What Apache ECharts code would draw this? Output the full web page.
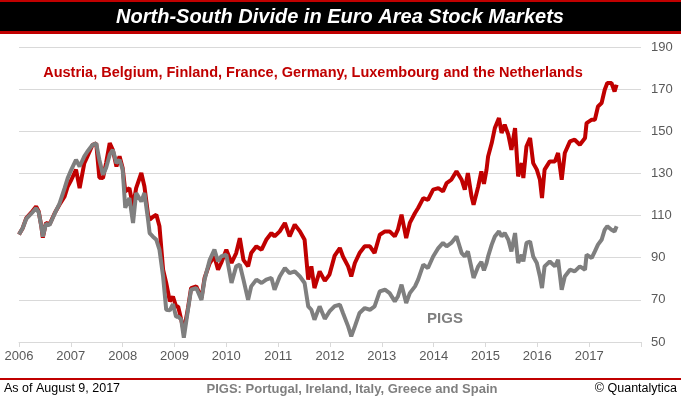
<!DOCTYPE html>
<html>
<head>
<meta charset="utf-8">
<script src="https://cdn.jsdelivr.net/npm/echarts@6/dist/echarts.min.js"></script>
<style>
html,body{margin:0;padding:0;background:#fff;}
#chart{width:681px;height:399px;}
</style>
</head>
<body>
<div id="chart"></div>
<script>
// decimal years
var dates = [
2006.00,2006.07,2006.14,2006.24,2006.33,2006.38,2006.43,2006.46,2006.52,2006.59,2006.69,2006.78,2006.88,2006.94,
2007.01,2007.10,2007.17,2007.26,2007.32,2007.42,2007.49,2007.55,2007.62,2007.68,2007.75,2007.81,2007.88,2007.94,
2008.00,2008.05,2008.13,2008.20,2008.26,2008.36,2008.42,2008.49,2008.52,2008.58,2008.65,2008.71,2008.78,2008.84,2008.91,2008.97,
2009.03,2009.07,2009.13,2009.18,2009.26,2009.32,2009.42,2009.52,2009.58,2009.68,2009.77,2009.84,2009.90,
2010.00,2010.10,2010.19,2010.26,2010.33,2010.42,2010.48,2010.58,2010.68,2010.77,2010.87,2010.93,
2011.03,2011.13,2011.22,2011.32,2011.42,2011.51,2011.58,2011.64,2011.70,2011.80,2011.90,2011.99,
2012.09,2012.19,2012.25,2012.35,2012.41,2012.48,2012.57,2012.67,2012.77,2012.86,2012.96,
2013.06,2013.15,2013.25,2013.31,2013.38,2013.47,2013.54,2013.64,2013.70,2013.80,2013.89,2013.99,
2014.09,2014.18,2014.25,2014.34,2014.44,2014.54,2014.60,2014.66,2014.73,2014.77,2014.86,2014.92,2014.97,
2015.02,2015.05,2015.12,2015.18,2015.26,2015.31,2015.37,2015.44,2015.50,2015.57,2015.63,2015.70,2015.73,2015.79,2015.86,2015.92,2015.99,
2016.05,2016.09,2016.14,2016.24,2016.34,2016.40,2016.47,2016.53,2016.63,2016.72,2016.82,2016.92,2016.95,
2017.05,2017.11,2017.17,2017.24,2017.30,2017.35,2017.43,2017.49,2017.53
];
var north = [
101,104,108.8,111.5,114.3,112,105,99.5,106.5,105.8,111.2,115.1,119.1,123.8,
127,131.8,123,134.9,138.1,143.6,144.2,128,127.8,134.9,144.4,141.2,133.3,138.1,
132.6,121.5,123,114.3,123,130.2,123.8,110.4,108,109.3,110.4,104.9,84.3,78,69.3,71.6,
66.9,66.9,60.6,55,66.1,75.6,76.4,70.9,80.4,87.5,90.6,84.3,87.5,
93.8,87.5,92.2,99.3,89,85.9,92.2,95.4,93.8,98.5,101.7,100.1,
102.5,106.5,100.1,105.7,102.5,98.5,79.6,85.9,75.6,83.5,79,82,
91,94.6,90.6,85.9,81.1,87.5,92.2,95.4,95.4,92.2,100.9,
102.5,102.5,100.1,103.3,110.4,99.3,106.5,111.2,113.6,118.3,117.5,122.3,
123,121.5,125.4,127,131,127,122.3,130.2,119.1,115.1,123.8,131,125,
131.8,138,144.4,151.5,156.3,149.2,153.1,148.4,141.2,151.5,128.6,134.9,127.8,142.8,146.8,134.9,131.8,
127,118.3,131.8,135.7,135.7,139.7,127,139.7,145.2,146,143.6,146.8,153.9,
155.5,155.5,161.8,163.4,169.7,172.9,172.9,168.9,172.1
];
var pigs = [
101,104,108.5,111,113.5,111.5,105,100,106,105.5,111,115.5,123,127.8,
131.8,136.5,133.3,138.1,140.4,143.6,144.2,136.5,129.4,132.6,138.9,141.2,134.9,136.5,
131.8,113.7,118.3,106.5,120.7,116.7,120.7,108,101.7,100.1,98.5,93.8,81.1,65.3,65,68,
62,62.1,60.6,52,65.3,74.8,75.6,70,79.6,89,93.8,88.2,90.6,
91.4,78,85.9,86.7,79.6,70,76.4,79.6,78,79.6,80.4,74.8,
81.1,85.1,82.7,83.5,81.1,78,66.9,65.3,60.6,66.9,61,64.5,
67,67.7,63.8,57.4,52.7,57.4,63.8,66.1,65.3,66.9,74,
74.8,73.2,69.3,71.6,77.2,68.5,73.2,76.4,79.6,86.7,85.1,90.6,
94.6,97,95.4,97,100.1,92.2,90.6,93,85.1,80.4,85.9,88,84,
87.5,90.6,96.2,100.1,102.5,100.1,101.7,98.5,93,101.7,87.5,91.4,88.2,97,97.7,90.6,87.5,
81.1,75.6,85.9,88.2,85.9,89,74.8,81.1,84.3,83.5,85.9,84.3,91.4,
89.9,93,96.2,98.5,103.3,104.9,103.3,102.5,104.9
];
var yearTicks = [2006,2007,2008,2009,2010,2011,2012,2013,2014,2015,2016,2017];
var yTickLabels = [50,70,90,110,130,150,170,190];

var RED = '#c00000';
var GRAY = '#7f7f7f';
// axis counts ticks from min, so values are drawn relative to the lowest tick
var yBase = yTickLabels[0];

function pairs(vals){
	var out = [];
	for(var i=0;i<dates.length;i++){
		out.push([dates[i], vals[i]-yBase]);
	}
	return out;
}

var chart = echarts.init(document.getElementById('chart'));
var option = {
	animation:false,
	backgroundColor:'#fff',
	grid:{left:19,right:40,top:47,bottom:57,containLabel:false},
	xAxis:{
		type:'value',
		min:yearTicks[0],
		max:yearTicks[yearTicks.length-1]+1,
		interval:1,
		axisLine:{lineStyle:{color:'#d9d9d9',width:1}},
		axisTick:{show:true,length:5,lineStyle:{color:'#d9d9d9'}},
		splitLine:{show:false},
		axisLabel:{
			color:'#595959',fontSize:13,fontFamily:'Liberation Sans, sans-serif',margin:8,
			formatter:function(v){ return yearTicks.indexOf(v)>=0 ? String(v) : ''; }
		}
	},
	yAxis:{
		type:'value',
		position:'right',
		min:0,
		max:yTickLabels[yTickLabels.length-1]-yBase,
		interval:yTickLabels[1]-yTickLabels[0],
		axisLine:{show:false},
		axisTick:{show:false},
		splitLine:{lineStyle:{color:'#d9d9d9',width:1}},
		axisLabel:{
			color:'#595959',fontSize:13,fontFamily:'Liberation Sans, sans-serif',margin:10,
			formatter:function(v){ return String(v+yBase); }
		}
	},
	series:[
		{name:'North',type:'line',showSymbol:false,data:pairs(north),lineStyle:{color:RED,width:4},z:2},
		{name:'PIGS',type:'line',showSymbol:false,data:pairs(pigs),lineStyle:{color:GRAY,width:4},z:3}
	],
	graphic:[
		{type:'rect',shape:{x:0,y:0,width:681,height:2},style:{fill:RED}},
		{type:'rect',shape:{x:0,y:2,width:681,height:29},style:{fill:'#000'}},
		{type:'rect',shape:{x:0,y:31,width:681,height:3},style:{fill:RED}},
		{type:'text',x:340,y:17,style:{text:'North-South Divide in Euro Area Stock Markets',fill:'#fff',
			font:'italic bold 20px "Liberation Sans", sans-serif',textAlign:'center',textVerticalAlign:'middle'}},
		{type:'text',x:313,y:73,style:{text:'Austria, Belgium, Finland, France, Germany, Luxembourg and the Netherlands',fill:RED,
			font:'bold 14.5px "Liberation Sans", sans-serif',textAlign:'center',textVerticalAlign:'middle'}},
		{type:'text',x:445,y:319,style:{text:'PIGS',fill:GRAY,
			font:'bold 15px "Liberation Sans", sans-serif',textAlign:'center',textVerticalAlign:'middle'}},
		{type:'rect',shape:{x:0,y:378,width:681,height:2},style:{fill:RED}},
		{type:'text',x:4,y:389,style:{text:'As of August 9, 2017',fill:'#000',
			font:'12.5px "Liberation Sans", sans-serif',textAlign:'left',textVerticalAlign:'middle'}},
		{type:'text',x:352,y:389,style:{text:'PIGS: Portugal, Ireland, Italy, Greece and Spain',fill:GRAY,
			font:'bold 13px "Liberation Sans", sans-serif',textAlign:'center',textVerticalAlign:'middle'}},
		{type:'text',x:677,y:389,style:{text:'© Quantalytica',fill:'#000',
			font:'12.5px "Liberation Sans", sans-serif',textAlign:'right',textVerticalAlign:'middle'}}
	]
};
chart.setOption(option);
</script>
</body>
</html>
